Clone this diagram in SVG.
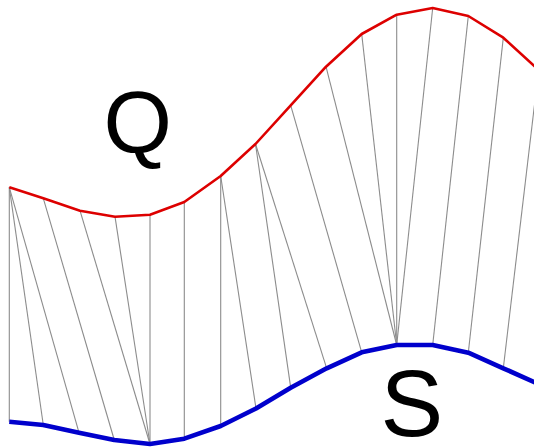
<svg xmlns="http://www.w3.org/2000/svg" width="534" height="448" viewBox="0 0 534 448">
<style>
.c{stroke:#8c8c8c;stroke-width:1.1;fill:none}
.q{stroke:#dd0000;stroke-width:2.6;fill:none;stroke-linejoin:round}
.s{stroke:#0000cc;stroke-width:4.6;fill:none;stroke-linejoin:round}
.t{font-family:"Liberation Sans",Arial,sans-serif;fill:#000}
</style>
<rect width="534" height="448" fill="#fff"/>
<g id="connectors">
<line class="c" x1="9.3" y1="187.3" x2="9.3" y2="421.7"/>
<line class="c" x1="9.3" y1="187.3" x2="43.3" y2="425"/>
<line class="c" x1="9.3" y1="187.3" x2="79" y2="432.7"/>
<line class="c" x1="43.3" y1="198.3" x2="114.3" y2="440"/>
<line class="c" x1="80" y1="210.7" x2="150" y2="444"/>
<line class="c" x1="115" y1="216.7" x2="150" y2="444"/>
<line class="c" x1="150" y1="214.7" x2="150" y2="444"/>
<line class="c" x1="184.3" y1="202" x2="184.3" y2="438.7"/>
<line class="c" x1="220.7" y1="176" x2="220.7" y2="426"/>
<line class="c" x1="220.7" y1="176" x2="256" y2="408.5"/>
<line class="c" x1="255.5" y1="144" x2="290.7" y2="387.7"/>
<line class="c" x1="255.5" y1="144" x2="326.7" y2="368.3"/>
<line class="c" x1="290.7" y1="105.3" x2="361.7" y2="352.3"/>
<line class="c" x1="326" y1="66.7" x2="396.7" y2="345"/>
<line class="c" x1="361.7" y1="34" x2="396.7" y2="345"/>
<line class="c" x1="396.7" y1="14.7" x2="396.7" y2="345"/>
<line class="c" x1="432.7" y1="8" x2="396.7" y2="345"/>
<line class="c" x1="468.3" y1="16" x2="432.7" y2="345"/>
<line class="c" x1="503.3" y1="37.7" x2="468.3" y2="352.7"/>
<line class="c" x1="538.6" y1="70" x2="503.3" y2="368.3"/>
</g>
<g id="Q">
<polyline class="q" points="9.3,187.3 43.3,198.3 80,210.7 115,216.7 150,214.7 184.3,202 220.7,176 255.5,144 290.7,105.3 326,66.7 361.7,34 396.7,14.7 432.7,8 468.3,16 503.3,37.7 538.6,70"/>
<text class="t" x="103.5" y="153" font-size="88">Q</text>
</g>
<g id="S">
<polyline class="s" points="9.3,421.7 43.3,425 79,432.7 114.3,440 150,444 184.3,438.7 220.7,426 256,408.5 290.7,387.7 326.7,368.3 361.7,352.3 396.7,345 432.7,345 468.3,352.7 503.3,368.3 538.6,384"/>
<text class="t" x="380.5" y="436" font-size="94">S</text>
</g>
</svg>
